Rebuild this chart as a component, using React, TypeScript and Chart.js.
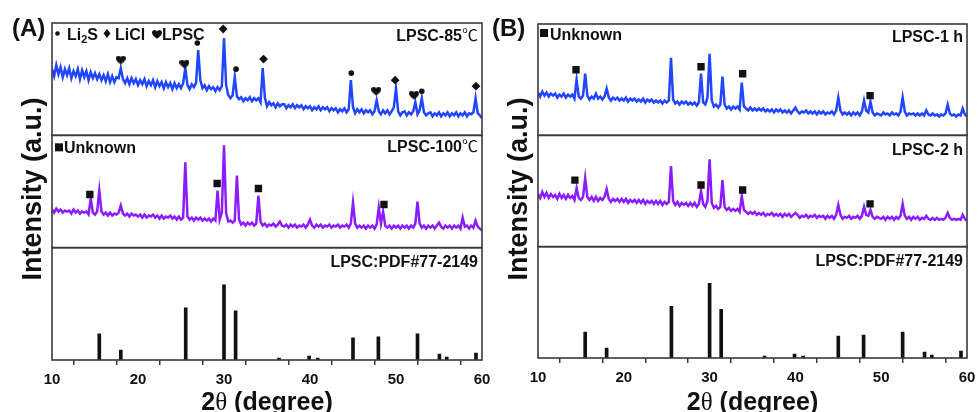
import { useEffect, useRef } from 'react';
import { Chart, registerables } from 'chart.js';

Chart.register(...registerables);

// ---------------- data ----------------
const THETA_MIN = 10;
const THETA_MAX = 60;
const THETA_STEP = 0.25;
const X_TICK_STEP = 5;
const Y_MIN = 0;
const Y_MAX = 112;

// intensities sampled every 0.25 deg from 10 to 60 (arbitrary units)
const lpsc85 = [
  66, 59, 70, 61, 68, 58, 66, 60, 67, 57, 64, 59, 66, 56, 65, 58, 64, 55, 63, 57,
  62, 56, 61, 55, 60, 54, 61, 53, 59, 53, 58, 57, 67, 56, 52, 57, 51, 57, 52, 56,
  50, 55, 51, 56, 49, 54, 50, 55, 48, 54, 49, 53, 47, 53, 48, 52, 46, 52, 47, 51,
  47, 52, 67, 50, 46, 51, 48, 52, 85, 55, 47, 50, 45, 49, 46, 48, 44, 48, 45, 49,
  97, 50, 40, 37, 40, 58, 39, 36, 38, 34, 37, 35, 38, 34, 37, 35, 37, 33, 67, 38,
  29, 33, 30, 32, 28, 32, 29, 31, 31, 27, 30, 28, 31, 27, 30, 28, 30, 26, 29, 27,
  29, 25, 28, 26, 29, 25, 28, 26, 28, 24, 27, 25, 27, 23, 26, 24, 27, 23, 26, 55,
  28, 22, 26, 23, 26, 22, 25, 23, 25, 21, 24, 35, 24, 21, 25, 22, 25, 21, 24, 28,
  47, 24, 20, 23, 24, 20, 23, 21, 24, 33, 21, 25, 37, 23, 20, 22, 23, 19, 22, 20,
  23, 19, 22, 20, 23, 19, 22, 20, 23, 19, 22, 20, 23, 19, 22, 21, 23, 37, 22, 20,
  17,
];

const lpsc100 = [
  38, 35, 39, 36, 38, 35, 37, 36, 37, 34, 38, 35, 37, 34, 36, 35, 36, 33, 49, 35,
  33, 36, 57, 36, 33, 35, 32, 35, 32, 34, 33, 35, 42, 34, 32, 34, 31, 34, 32, 33,
  31, 33, 30, 33, 30, 32, 31, 33, 30, 32, 29, 32, 29, 31, 30, 32, 29, 31, 28, 31,
  28, 30, 85, 31, 28, 30, 27, 30, 28, 30, 27, 29, 27, 29, 26, 29, 27, 57, 28, 35,
  102, 34, 26, 27, 25, 27, 72, 28, 23, 25, 22, 25, 23, 25, 22, 24, 52, 26, 22, 24,
  21, 23, 22, 24, 21, 23, 26, 22, 21, 23, 20, 23, 21, 23, 20, 22, 21, 23, 20, 23,
  28, 22, 20, 23, 21, 23, 20, 22, 21, 23, 20, 22, 21, 23, 20, 22, 21, 23, 20, 24,
  45, 24, 20, 22, 20, 22, 19, 22, 20, 22, 19, 23, 40, 24, 36, 22, 20, 22, 19, 22,
  20, 22, 19, 22, 20, 22, 19, 22, 20, 24, 46, 24, 20, 22, 19, 22, 20, 22, 19, 22,
  25, 21, 19, 22, 20, 22, 19, 22, 20, 22, 19, 30, 21, 22, 19, 22, 20, 27, 21, 19,
  17,
];

const lpsc1h = [
  43, 39, 44, 40, 43, 39, 42, 40, 42, 38, 41, 39, 42, 38, 41, 39, 41, 37, 56, 39,
  37, 40, 62, 40, 36, 39, 37, 42, 37, 39, 36, 39, 47, 38, 35, 38, 36, 38, 35, 37,
  35, 38, 34, 37, 35, 37, 34, 36, 34, 37, 33, 36, 34, 36, 33, 35, 33, 35, 32, 35,
  33, 35, 78, 36, 32, 34, 31, 34, 32, 34, 31, 33, 31, 33, 30, 33, 62, 33, 31, 38,
  82, 35, 29, 31, 28, 31, 59, 31, 27, 29, 26, 29, 27, 29, 26, 53, 29, 27, 25, 28,
  25, 27, 25, 27, 25, 27, 24, 26, 24, 26, 23, 26, 24, 26, 23, 25, 23, 25, 22, 25,
  28, 24, 22, 24, 23, 25, 22, 24, 22, 24, 21, 24, 22, 24, 21, 23, 22, 24, 21, 25,
  38, 25, 21, 23, 21, 23, 20, 23, 21, 23, 20, 24, 35, 25, 23, 34, 23, 20, 22, 21,
  20, 23, 21, 22, 20, 23, 21, 22, 20, 24, 38, 24, 20, 22, 21, 22, 20, 22, 20, 22,
  20, 25, 21, 20, 22, 20, 21, 19, 21, 20, 22, 31, 22, 20, 21, 19, 21, 20, 27, 21,
  19,
];

const lpsc2h = [
  53, 49, 55, 50, 54, 49, 53, 50, 52, 48, 53, 49, 52, 48, 52, 49, 51, 47, 59, 49,
  47, 50, 69, 50, 47, 50, 46, 50, 46, 49, 47, 50, 58, 48, 45, 48, 46, 48, 45, 48,
  45, 48, 44, 47, 45, 47, 44, 47, 44, 47, 43, 46, 44, 46, 43, 46, 43, 46, 42, 45,
  43, 45, 81, 46, 42, 45, 41, 44, 42, 44, 41, 44, 41, 44, 40, 43, 56, 43, 40, 46,
  88, 44, 39, 41, 38, 40, 67, 40, 37, 39, 36, 38, 36, 38, 35, 51, 37, 35, 33, 35,
  33, 35, 32, 34, 32, 34, 31, 33, 32, 34, 31, 33, 31, 33, 30, 33, 31, 33, 30, 32,
  34, 32, 29, 31, 30, 32, 29, 31, 30, 32, 29, 31, 30, 31, 28, 31, 29, 31, 28, 32,
  42, 32, 28, 30, 29, 31, 28, 30, 29, 31, 28, 31, 40, 32, 31, 37, 30, 28, 30, 29,
  28, 30, 27, 30, 28, 30, 27, 30, 28, 31, 43, 31, 28, 30, 27, 30, 28, 30, 27, 29,
  28, 31, 28, 27, 29, 27, 29, 27, 28, 27, 29, 34, 29, 27, 28, 27, 28, 27, 32, 28,
  26,
];

// reference pattern LPSC: PDF#77-2149
const pdfTheta = [15.5, 18.0, 25.55, 30.0, 31.35, 36.4, 39.9, 40.9, 45.0, 47.95, 52.5, 55.05, 55.9, 59.3];
const pdfIntensity = [26, 10, 52, 75, 49, 2, 4, 2, 22, 23, 26, 6, 3, 7];

// phase markers
const li2sTheta = [26.9, 31.4, 44.8, 53.0];
const li2sY = [92, 66, 62, 44];
const liclTheta = [29.9, 34.6, 49.9, 59.3];
const liclY = [106, 76, 55, 49];
const lpscTheta = [18.0, 25.4, 47.7, 52.1];
const lpscY = [75, 71, 44, 40];
const unk100Theta = [14.4, 29.2, 34.0, 48.6];
const unk100Y = [53, 64, 59, 43];
const unk1hTheta = [14.43, 29.0, 33.85, 48.7];
const unk1hY = [66, 69, 62, 40];
const unk2hTheta = [14.3, 29.0, 33.85, 48.7];
const unk2hY = [67, 62, 57, 43];

// ---------------- styles ----------------
const FONT_SANS = '"Liberation Sans", Arial, Helvetica, sans-serif';
const FONT_CJK = '"Noto Sans CJK SC", "DejaVu Sans", sans-serif';
const FONT_SERIF = '"Liberation Serif", "Times New Roman", serif';
const INK = '#111111';
const FRAME = '#3a3a3a';
const BLUE = '#2245ff';
const VIOLET = '#8b1cff';
const H = 412;

function gridPoints(values: number[]) {
  return values.map((y, i) => ({ x: THETA_MIN + i * THETA_STEP, y }));
}
function pairPoints(xs: number[], ys: number[]) {
  return xs.map((x, i) => ({ x, y: ys[i] }));
}

let heartCanvas: HTMLCanvasElement | null = null;
function heartImage() {
  if (heartCanvas) return heartCanvas;
  const c = document.createElement('canvas');
  c.width = 10;
  c.height = 9;
  const g = c.getContext('2d')!;
  g.fillStyle = INK;
  g.beginPath();
  g.moveTo(5, 8.8);
  g.bezierCurveTo(1.5, 6, 0, 4.6, 0, 2.7);
  g.bezierCurveTo(0, 0.9, 1.3, 0, 2.6, 0);
  g.bezierCurveTo(3.8, 0, 4.6, 0.8, 5, 1.8);
  g.bezierCurveTo(5.4, 0.8, 6.2, 0, 7.4, 0);
  g.bezierCurveTo(8.7, 0, 10, 0.9, 10, 2.7);
  g.bezierCurveTo(10, 4.6, 8.5, 6, 5, 8.8);
  g.fill();
  heartCanvas = c;
  return c;
}

function setFont(ctx: CanvasRenderingContext2D, size: number, family = FONT_SANS, weight = 'bold') {
  ctx.font = `${weight} ${size}px ${family}`;
}

type Part = { t: string; size: number; family?: string; weight?: string; dy?: number };

function drawParts(ctx: CanvasRenderingContext2D, parts: Part[], x: number, baseY: number, align: 'left' | 'right' | 'center') {
  let total = 0;
  const widths = parts.map((p) => {
    setFont(ctx, p.size, p.family, p.weight);
    const w = ctx.measureText(p.t).width;
    total += w;
    return w;
  });
  let cx = align === 'left' ? x : align === 'right' ? x - total : x - total / 2;
  ctx.textAlign = 'left';
  ctx.textBaseline = 'alphabetic';
  parts.forEach((p, i) => {
    setFont(ctx, p.size, p.family, p.weight);
    ctx.fillText(p.t, cx, baseY + (p.dy || 0));
    cx += widths[i];
  });
}

function square(ctx: CanvasRenderingContext2D, x: number, y: number, s: number) {
  ctx.fillRect(x, y, s, s);
}

type Spec = {
  key: string;
  canvasLeft: number;
  canvasWidth: number;
  padLeft: number;
  padRight: number;
  padTop: number;
  plotBottom: number;
  panelLabel: string;
  panelLabelX: number;
  yTitleX: number;
  top: number[];
  mid: number[];
  markers: any[];
  decor: (ctx: CanvasRenderingContext2D, L: number, R: number, t: number, m: number, b: number) => void;
};

const label16 = (t: string): Part[] => [{ t, size: 16 }];
const labelC = (t: string): Part[] => [
  { t, size: 16 },
  { t: '\u2103', size: 16, family: FONT_CJK, weight: 'normal' },
];

const specA: Spec = {
  key: 'A',
  canvasLeft: 0,
  canvasWidth: 500,
  padLeft: 52,
  padRight: 18,
  padTop: 23,
  plotBottom: 360,
  panelLabel: '(A)',
  panelLabelX: 12,
  yTitleX: 34,
  top: lpsc85,
  mid: lpsc100,
  markers: [
    { theta: li2sTheta, y: li2sY, axis: 'yTop', style: 'circle', r: 2.8 },
    { theta: liclTheta, y: liclY, axis: 'yTop', style: 'rectRot', r: 4.4 },
    { theta: lpscTheta, y: lpscY, axis: 'yTop', style: 'heart', r: 4 },
    { theta: unk100Theta, y: unk100Y, axis: 'yMid', style: 'rect', r: 5.2 },
  ],
  decor: (ctx, L, R, t, m, b) => {
    ctx.fillStyle = INK;
    // phase legend
    ctx.beginPath();
    ctx.arc(L + 5.5, t + 10.5, 2.3, 0, Math.PI * 2);
    ctx.fill();
    const base = t + 17;
    setFont(ctx, 16);
    ctx.textAlign = 'left';
    ctx.textBaseline = 'alphabetic';
    let x = L + 15;
    ctx.fillText('Li', x, base);
    x += ctx.measureText('Li').width;
    setFont(ctx, 11);
    ctx.fillText('2', x, base + 3);
    x += ctx.measureText('2').width;
    setFont(ctx, 16);
    ctx.fillText('S', x, base);
    ctx.beginPath();
    ctx.moveTo(L + 55, t + 6);
    ctx.lineTo(L + 58.5, t + 10.5);
    ctx.lineTo(L + 55, t + 15);
    ctx.lineTo(L + 51.5, t + 10.5);
    ctx.closePath();
    ctx.fill();
    ctx.fillText('LiCl', L + 63, base);
    ctx.drawImage(heartImage(), L + 100, t + 7);
    ctx.fillText('LPSC', L + 110, base);
    drawParts(ctx, labelC('LPSC-85'), R - 4, t + 18, 'right');

    square(ctx, L + 3, m + 8, 8);
    drawParts(ctx, label16('Unknown'), L + 12, m + 18, 'left');
    drawParts(ctx, labelC('LPSC-100'), R - 4, m + 16.5, 'right');

    drawParts(ctx, label16('LPSC:PDF#77-2149'), R - 4, b + 19, 'right');
  },
};

const specB: Spec = {
  key: 'B',
  canvasLeft: 485,
  canvasWidth: 500,
  padLeft: 53,
  padRight: 18,
  padTop: 24,
  plotBottom: 358,
  panelLabel: '(B)',
  panelLabelX: 7,
  yTitleX: 35,
  top: lpsc1h,
  mid: lpsc2h,
  markers: [
    { theta: unk1hTheta, y: unk1hY, axis: 'yTop', style: 'rect', r: 5.2 },
    { theta: unk2hTheta, y: unk2hY, axis: 'yMid', style: 'rect', r: 5.2 },
  ],
  decor: (ctx, L, R, t, m, b) => {
    ctx.fillStyle = INK;
    square(ctx, L + 2, t + 5, 8);
    drawParts(ctx, label16('Unknown'), L + 12, t + 15.5, 'left');
    drawParts(ctx, label16('LPSC-1 h'), R - 4, t + 17.5, 'right');
    drawParts(ctx, label16('LPSC-2 h'), R - 4, m + 20, 'right');
    drawParts(ctx, label16('LPSC:PDF#77-2149'), R - 4, b + 19, 'right');
  },
};

function makeDecorPlugin(spec: Spec) {
  return {
    id: 'decor' + spec.key,
    afterDraw(chart: any) {
      const ctx: CanvasRenderingContext2D = chart.ctx;
      const { left: L, right: R } = chart.chartArea;
      const sTop = chart.scales.yTop;
      const sMid = chart.scales.yMid;
      const sBot = chart.scales.yBot;
      ctx.save();
      ctx.strokeStyle = FRAME;
      ctx.lineWidth = 1.6;
      [sTop, sMid, sBot].forEach((s: any) => {
        ctx.strokeRect(L, s.top, R - L, s.bottom - s.top);
      });
      spec.decor(ctx, L, R, sTop.top, sMid.top, sBot.top);

      ctx.fillStyle = INK;
      // panel label
      setFont(ctx, 24);
      ctx.textAlign = 'left';
      ctx.textBaseline = 'alphabetic';
      ctx.fillText(spec.panelLabel, spec.panelLabelX, 36);

      // x title
      drawParts(
        ctx,
        [
          { t: '2', size: 25 },
          { t: '\u03b8', size: 25, family: FONT_SERIF, weight: 'normal' },
          { t: ' (degree)', size: 25 },
        ],
        (L + R) / 2,
        410,
        'center'
      );

      // y title
      ctx.save();
      ctx.translate(spec.yTitleX, 189);
      ctx.rotate(-Math.PI / 2);
      setFont(ctx, 27);
      ctx.textAlign = 'center';
      ctx.textBaseline = 'middle';
      ctx.fillText('Intensity (a.u.)', 0, 0);
      ctx.restore();
      ctx.restore();
    },
  };
}

function yStackScale() {
  return {
    type: 'linear',
    position: 'left',
    stack: 'panel',
    stackWeight: 1,
    min: Y_MIN,
    max: Y_MAX,
    ticks: { display: false },
    grid: { display: false, drawTicks: false },
    border: { display: false },
    afterFit: (s: any) => {
      s.width = 0;
    },
  };
}

function buildConfig(spec: Spec): any {
  const markerSets = spec.markers.map((mk) => ({
    type: 'scatter',
    data: pairPoints(mk.theta, mk.y),
    yAxisID: mk.axis,
    pointStyle: mk.style === 'heart' ? heartImage() : mk.style,
    pointRadius: mk.r,
    pointHoverRadius: mk.r,
    backgroundColor: INK,
    borderColor: INK,
    borderWidth: 0,
    showLine: false,
  }));
  return {
    type: 'line',
    data: {
      datasets: [
        ...markerSets,
        {
          type: 'line',
          data: gridPoints(spec.top),
          yAxisID: 'yTop',
          borderColor: BLUE,
          borderWidth: 2.5,
          pointRadius: 0,
          tension: 0,
          fill: false,
        },
        {
          type: 'line',
          data: gridPoints(spec.mid),
          yAxisID: 'yMid',
          borderColor: VIOLET,
          borderWidth: 2.5,
          pointRadius: 0,
          tension: 0,
          fill: false,
        },
        {
          type: 'bar',
          data: pairPoints(pdfTheta, pdfIntensity),
          yAxisID: 'yBot',
          backgroundColor: INK,
          borderWidth: 0,
          barThickness: 3,
        },
      ],
    },
    options: {
      responsive: false,
      maintainAspectRatio: false,
      animation: false,
      events: [],
      layout: { padding: { left: spec.padLeft, right: spec.padRight, top: spec.padTop, bottom: 0 } },
      plugins: { legend: { display: false }, tooltip: { enabled: false } },
      scales: {
        x: {
          type: 'linear',
          position: 'bottom',
          min: THETA_MIN,
          max: THETA_MAX,
          offset: false,
          afterFit: (s: any) => {
            s.height = H - spec.plotBottom;
          },
          ticks: {
            stepSize: X_TICK_STEP,
            autoSkip: false,
            maxRotation: 0,
            padding: 6,
            color: INK,
            font: { family: FONT_SANS, size: 15, weight: 'bold' },
            callback: (v: number) => (v % 10 === 0 ? String(v) : ''),
          },
          grid: { display: true, drawOnChartArea: false, drawTicks: true, tickLength: 5, color: FRAME, lineWidth: 1.5 },
          border: { display: false },
        },
        yBot: yStackScale(),
        yMid: yStackScale(),
        yTop: yStackScale(),
      },
    },
    plugins: [makeDecorPlugin(spec)],
  };
}

function Panel({ spec }: { spec: Spec }) {
  const ref = useRef<HTMLCanvasElement | null>(null);
  useEffect(() => {
    if (!ref.current) return;
    const chart = new Chart(ref.current, buildConfig(spec));
    return () => chart.destroy();
  }, [spec]);
  return (
    <canvas
      ref={ref}
      width={spec.canvasWidth}
      height={H}
      style={{ position: 'absolute', left: spec.canvasLeft, top: 0, width: spec.canvasWidth, height: H }}
    />
  );
}

export default function App() {
  return (
    <div style={{ position: 'absolute', left: 0, top: 0, width: 979, height: H, background: '#ffffff', overflow: 'hidden' }}>
      <Panel spec={specA} />
      <Panel spec={specB} />
    </div>
  );
}
